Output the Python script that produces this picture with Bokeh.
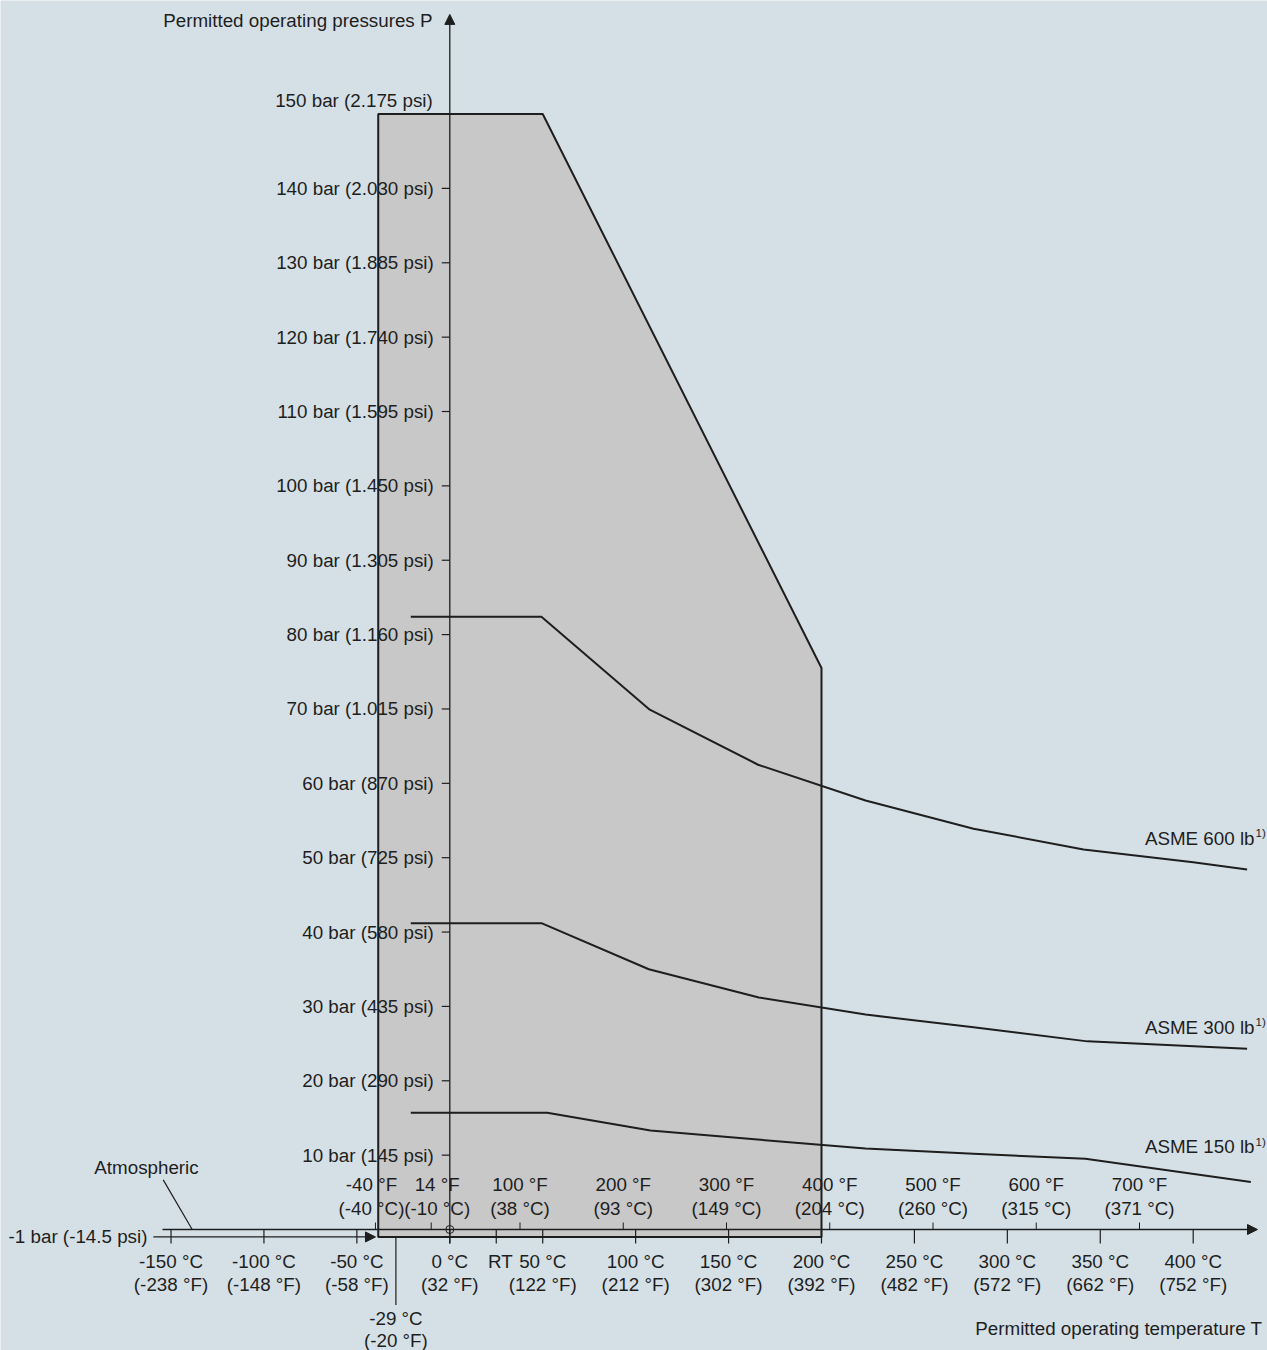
from bokeh.plotting import figure
from bokeh.models import Range1d, Arrow, NormalHead
from bokeh.embed import file_html
from bokeh.resources import INLINE
from bokeh.core.properties import value

# ---------------- data ----------------
celsius_ticks = [-150, -100, -50, 0, 50, 100, 150, 200, 250, 300, 350, 400]
celsius_ticks_f = ["-238", "-148", "-58", "32", "122", "212", "302", "392", "482", "572", "662", "752"]
fahrenheit_ticks = [-40, 14, 100, 200, 300, 400, 500, 600, 700]
fahrenheit_ticks_c = ["-40", "-10", "38", "93", "149", "204", "260", "315", "371"]
pressure_ticks_bar = [10, 20, 30, 40, 50, 60, 70, 80, 90, 100, 110, 120, 130, 140, 150]
pressure_ticks_psi = ["145", "290", "435", "580", "725", "870", "1.015", "1.160", "1.305",
                      "1.450", "1.595", "1.740", "1.885", "2.030", "2.175"]
rt_temp = 25
min_temp = -29
atmospheric_bar = -1

envelope_t = [-38.5, -38.5, 50, 200, 200]
envelope_p = [-1, 150, 150, 75.5, -1]

asme600_t = [-21, 49.3, 107.6, 165.9, 223.7, 281.8, 341, 400, 429]
asme600_p = [82.4, 82.4, 69.9, 62.5, 57.7, 53.9, 51.1, 49.4, 48.4]
asme300_t = [-21, 49.3, 107.1, 166.3, 223.7, 281.8, 343.1, 429]
asme300_p = [41.2, 41.2, 35.0, 31.2, 28.9, 27.2, 25.3, 24.3]
asme150_t = [-21, 52.4, 108, 165.6, 223.7, 281.8, 342, 431]
asme150_p = [15.7, 15.7, 13.3, 12.1, 10.9, 10.2, 9.5, 6.4]
asme_names = ["ASME 600 lb", "ASME 300 lb", "ASME 150 lb"]

# ---------------- layout ----------------
W, H = 1267, 1350
X0, X1 = -241.75, 439.98
Y0, Y1 = -16.27, 165.27
PX = (X1 - X0) / W
PY = (Y1 - Y0) / H

BG = "#d5e0e6"
BOX = "#c8c8c8"
INK = "#1e1e1e"
FONT = value("Liberation Sans")
FS = value("18.8px")

p = figure(width=W, height=H, x_range=Range1d(X0, X1), y_range=Range1d(Y0, Y1),
           output_backend="svg", toolbar_location=None, x_axis_type=None, y_axis_type=None,
           min_border=0, background_fill_color=BG, border_fill_color=BG,
           outline_line_color=None)

# envelope
p.patch(envelope_t, envelope_p, fill_color=BOX, line_color=INK, line_width=2)

# ASME curves
for t, pr in [(asme600_t, asme600_p), (asme300_t, asme300_p), (asme150_t, asme150_p)]:
    p.line(t, pr, line_color=INK, line_width=2)

# axes
def arrow(xs, ys, xe, ye, lw=1.3):
    p.add_layout(Arrow(end=NormalHead(size=10, fill_color=INK, line_color=INK, line_width=1),
                       x_start=xs, y_start=ys, x_end=xe, y_end=ye,
                       line_color=INK, line_width=lw))

arrow(0, -14 * PY, 0, 163.4)                            # pressure axis
arrow(-154.6, 0, 434.6, 0)                              # temperature axis
arrow(-159.5, atmospheric_bar, -40.0, atmospheric_bar)  # -1 bar line

# origin marker
p.scatter([0], [0], marker="circle", size=8, fill_color=None, line_color=INK, line_width=1)

# celsius ticks (below)
ct = celsius_ticks + [rt_temp]
p.segment(x0=ct, y0=[0] * len(ct), x1=ct, y1=[-14 * PY] * len(ct), line_color=INK, line_width=1.2)
# fahrenheit ticks (above)
ft = [(f - 32) * 5 / 9 for f in fahrenheit_ticks]
p.segment(x0=ft, y0=[0] * len(ft), x1=ft, y1=[7 * PY] * len(ft), line_color=INK, line_width=1)
# pressure ticks
pt = [b for b in pressure_ticks_bar if b < 150]
p.segment(x0=[-8 * PX] * len(pt), y0=pt, x1=[0] * len(pt), y1=pt, line_color=INK, line_width=1.2)
# -29 °C line
p.segment(x0=[min_temp], y0=[atmospheric_bar], x1=[min_temp], y1=[atmospheric_bar - 68 * PY],
          line_color=INK, line_width=1.2)
# atmospheric leader
p.line([-154.2, -138.6], [6.68, 0], line_color=INK, line_width=1.2)

def txt(x, y, t, align="center", xo=0, yo=0, size=FS):
    p.text(x=x, y=y, text=t, text_align=align, text_baseline="middle",
           x_offset=xo, y_offset=yo, text_font=FONT, text_font_size=size,
           text_color=INK)

# pressure labels
lab = [f"{b} bar ({s} psi)" for b, s in zip(pressure_ticks_bar, pressure_ticks_psi)]
txt([0] * (len(lab) - 1), pressure_ticks_bar[:-1], lab[:-1], align="right", xo=-16)
txt([0], [pressure_ticks_bar[-1]], [lab[-1]], align="right", xo=-17, yo=-14)

# celsius labels
txt(celsius_ticks, [0] * len(celsius_ticks), [f"{c} °C" for c in celsius_ticks], yo=31.5)
txt(celsius_ticks, [0] * len(celsius_ticks), [f"({f} °F)" for f in celsius_ticks_f], yo=54.5)
txt([rt_temp], [0], ["RT"], xo=4, yo=31.5)
# fahrenheit labels (the two leftmost are nudged apart so they do not collide)
f_nudge = [-4 if f == -40 else (6 if f == 14 else 0) for f in fahrenheit_ticks]
for x, f, c, n in zip(ft, fahrenheit_ticks, fahrenheit_ticks_c, f_nudge):
    txt([x], [0], [f"{f} °F"], xo=n, yo=-45)
    txt([x], [0], [f"({c} °C)"], xo=n, yo=-21)
# -29 °C label
txt([min_temp], [0], ["-29 °C"], yo=89)
txt([min_temp], [0], ["(-20 °F)"], yo=111)

txt([-162.7], [atmospheric_bar], ["-1 bar (-14.5 psi)"], align="right")
txt([-163.2], [8.34], ["Atmospheric"])
txt([-9.3], [162.6], ["Permitted operating pressures P"], align="right")
txt([437.2], [-13.37], ["Permitted operating temperature T"], align="right")

asme_label_p = [52.6, 27.2, 11.1]
txt([433.0] * 3, asme_label_p, asme_names, align="right")
txt([433.0] * 3, asme_label_p, ["1)"] * 3, align="left", xo=1, yo=-5, size=value("11.5px"))

open("out.html", "w").write(file_html(p, INLINE))
